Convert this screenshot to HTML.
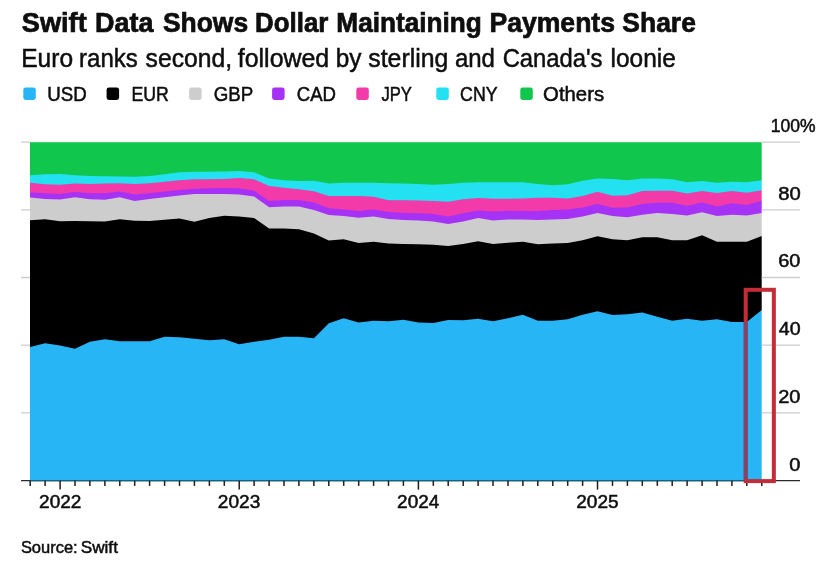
<!DOCTYPE html>
<html><head><meta charset="utf-8"><title>Swift Data Shows Dollar Maintaining Payments Share</title>
<style>
html,body{margin:0;padding:0;background:#fff;}
body{width:840px;height:578px;overflow:hidden;}
svg{display:block;font-family:"Liberation Sans",sans-serif;}
text{fill:#0e0e0e;stroke:#0e0e0e;stroke-width:0.5px;}
text.b{font-weight:bold;stroke-width:0.7px;}
</style></head><body>
<svg width="840" height="578" viewBox="0 0 840 578">
<rect width="840" height="578" fill="#ffffff"/>
<rect x="30" y="142.2" width="733.0" height="337.9" fill="#10c64c"/>
<path d="M30.0,480.1 L30.0,175.2 L30.2,175.2 L45.1,174.3 L60.1,174.0 L75.0,175.2 L89.9,176.0 L104.9,176.3 L119.8,176.5 L134.7,176.8 L149.6,176.0 L164.6,174.3 L179.5,172.3 L194.4,171.8 L209.4,171.8 L224.3,171.5 L239.2,171.0 L254.1,172.3 L269.1,178.5 L284.0,180.2 L298.9,181.0 L313.9,180.7 L328.8,183.5 L343.7,182.7 L358.7,182.7 L373.6,182.7 L388.5,183.2 L403.4,183.5 L418.4,184.0 L433.3,184.7 L448.2,184.0 L463.2,182.7 L478.1,182.3 L493.0,182.3 L508.0,182.3 L522.9,182.3 L537.8,184.0 L552.8,185.2 L567.7,184.3 L582.6,180.7 L597.5,178.5 L612.5,179.0 L627.4,180.2 L642.3,178.5 L657.3,178.5 L672.2,179.3 L687.1,182.3 L702.1,181.0 L717.0,182.7 L731.9,181.8 L746.8,182.3 L761.8,180.2 L763.0,180.2 L763.0,480.1Z" fill="#23e1f0"/>
<path d="M30.0,480.1 L30.0,182.7 L30.2,182.7 L45.1,184.3 L60.1,184.8 L75.0,183.5 L89.9,184.0 L104.9,183.5 L119.8,183.2 L134.7,184.0 L149.6,183.2 L164.6,181.8 L179.5,180.2 L194.4,179.3 L209.4,179.3 L224.3,179.0 L239.2,178.0 L254.1,179.3 L269.1,186.0 L284.0,187.7 L298.9,189.3 L313.9,191.3 L328.8,196.0 L343.7,196.0 L358.7,196.0 L373.6,196.8 L388.5,200.2 L403.4,200.2 L418.4,200.5 L433.3,201.0 L448.2,201.8 L463.2,199.3 L478.1,198.0 L493.0,198.8 L508.0,198.8 L522.9,198.5 L537.8,197.7 L552.8,197.7 L567.7,198.5 L582.6,196.0 L597.5,191.8 L612.5,195.7 L627.4,195.2 L642.3,191.0 L657.3,190.7 L672.2,190.7 L687.1,193.5 L702.1,191.0 L717.0,193.0 L731.9,191.0 L746.8,192.7 L761.8,190.2 L763.0,190.2 L763.0,480.1Z" fill="#f23aa8"/>
<path d="M30.0,480.1 L30.0,192.4 L30.2,192.4 L45.1,193.2 L60.1,194.0 L75.0,192.0 L89.9,193.2 L104.9,193.2 L119.8,191.5 L134.7,194.4 L149.6,193.2 L164.6,191.5 L179.5,189.9 L194.4,188.7 L209.4,188.2 L224.3,187.9 L239.2,188.2 L254.1,190.7 L269.1,201.0 L284.0,199.9 L298.9,199.9 L313.9,202.4 L328.8,208.2 L343.7,209.4 L358.7,211.0 L373.6,209.4 L388.5,212.0 L403.4,212.7 L418.4,213.2 L433.3,214.0 L448.2,216.5 L463.2,213.2 L478.1,210.4 L493.0,211.5 L508.0,210.7 L522.9,211.0 L537.8,211.0 L552.8,209.9 L567.7,209.4 L582.6,207.4 L597.5,204.0 L612.5,207.7 L627.4,207.4 L642.3,204.0 L657.3,202.7 L672.2,202.7 L687.1,205.7 L702.1,202.4 L717.0,206.5 L731.9,203.2 L746.8,204.9 L761.8,200.7 L763.0,200.7 L763.0,480.1Z" fill="#a632f5"/>
<path d="M30.0,480.1 L30.0,197.6 L30.2,197.6 L45.1,198.9 L60.1,199.4 L75.0,197.2 L89.9,199.2 L104.9,199.7 L119.8,197.2 L134.7,200.9 L149.6,198.9 L164.6,197.2 L179.5,195.6 L194.4,193.9 L209.4,193.9 L224.3,193.9 L239.2,194.4 L254.1,196.4 L269.1,207.2 L284.0,206.4 L298.9,206.4 L313.9,210.1 L328.8,215.1 L343.7,216.1 L358.7,217.7 L373.6,216.4 L388.5,218.9 L403.4,220.1 L418.4,220.6 L433.3,221.4 L448.2,223.9 L463.2,221.4 L478.1,218.1 L493.0,220.6 L508.0,219.4 L522.9,219.4 L537.8,220.1 L552.8,219.4 L567.7,218.9 L582.6,216.4 L597.5,213.1 L612.5,216.1 L627.4,217.2 L642.3,214.7 L657.3,213.1 L672.2,213.9 L687.1,215.6 L702.1,212.2 L717.0,216.1 L731.9,214.7 L746.8,215.6 L761.8,213.1 L763.0,213.1 L763.0,480.1Z" fill="#cdcdcd"/>
<path d="M30.0,480.1 L30.0,220.2 L30.2,220.2 L45.1,219.3 L60.1,221.3 L75.0,221.0 L89.9,221.3 L104.9,221.5 L119.8,219.3 L134.7,220.7 L149.6,221.0 L164.6,219.7 L179.5,218.5 L194.4,221.8 L209.4,218.0 L224.3,215.7 L239.2,216.5 L254.1,218.0 L269.1,228.5 L284.0,228.5 L298.9,229.3 L313.9,233.5 L328.8,240.5 L343.7,239.3 L358.7,243.0 L373.6,241.8 L388.5,243.5 L403.4,244.0 L418.4,244.3 L433.3,244.7 L448.2,246.0 L463.2,244.0 L478.1,241.3 L493.0,244.0 L508.0,242.7 L522.9,241.8 L537.8,244.3 L552.8,243.5 L567.7,243.0 L582.6,240.2 L597.5,236.3 L612.5,239.3 L627.4,240.2 L642.3,237.3 L657.3,237.3 L672.2,240.2 L687.1,240.2 L702.1,235.2 L717.0,241.8 L731.9,241.8 L746.8,241.8 L761.8,236.0 L763.0,236.0 L763.0,480.1Z" fill="#000000"/>
<path d="M30.0,480.1 L30.0,347.0 L30.2,347.0 L45.1,343.3 L60.1,345.5 L75.0,348.7 L89.9,341.7 L104.9,339.2 L119.8,341.3 L134.7,341.3 L149.6,341.3 L164.6,336.7 L179.5,337.2 L194.4,338.7 L209.4,340.3 L224.3,339.2 L239.2,344.2 L254.1,341.7 L269.1,339.7 L284.0,336.7 L298.9,336.7 L313.9,338.3 L328.8,323.3 L343.7,318.3 L358.7,322.5 L373.6,320.8 L388.5,321.3 L403.4,319.7 L418.4,322.5 L433.3,323.0 L448.2,320.0 L463.2,320.3 L478.1,318.7 L493.0,321.3 L508.0,318.3 L522.9,314.7 L537.8,320.8 L552.8,320.8 L567.7,319.2 L582.6,314.7 L597.5,311.3 L612.5,315.0 L627.4,314.2 L642.3,312.5 L657.3,316.7 L672.2,320.8 L687.1,318.7 L702.1,320.8 L717.0,319.2 L731.9,322.0 L746.8,322.0 L761.8,310.0 L763.0,310.0 L763.0,480.1Z" fill="#28b5f5"/>
<rect x="761.7" y="138" width="4" height="346" fill="#fff"/>
<path d="M21,412.8H30M761.7,412.8H800" stroke="#cbcdd0" stroke-width="1.3" fill="none"/>
<path d="M21,345.2H30M761.7,345.2H800" stroke="#cbcdd0" stroke-width="1.3" fill="none"/>
<path d="M21,277.5H30M761.7,277.5H800" stroke="#cbcdd0" stroke-width="1.3" fill="none"/>
<path d="M21,209.9H30M761.7,209.9H800" stroke="#cbcdd0" stroke-width="1.3" fill="none"/>
<path d="M21,142.2H30M761.7,142.2H800" stroke="#cbcdd0" stroke-width="1.3" fill="none"/>
<line x1="21" y1="480.7" x2="800" y2="480.7" stroke="#2a2a2a" stroke-width="1.3"/><line x1="30" y1="480.55" x2="761.7" y2="480.55" stroke="#126384" stroke-width="1.3"/>
<line x1="30.2" y1="480.8" x2="30.2" y2="485.9" stroke="#1e1e1e" stroke-width="1.5"/>
<line x1="45.1" y1="480.8" x2="45.1" y2="485.9" stroke="#1e1e1e" stroke-width="1.5"/>
<line x1="60.1" y1="480.8" x2="60.1" y2="489.6" stroke="#1e1e1e" stroke-width="1.5"/>
<line x1="75.0" y1="480.8" x2="75.0" y2="485.9" stroke="#1e1e1e" stroke-width="1.5"/>
<line x1="89.9" y1="480.8" x2="89.9" y2="485.9" stroke="#1e1e1e" stroke-width="1.5"/>
<line x1="104.9" y1="480.8" x2="104.9" y2="485.9" stroke="#1e1e1e" stroke-width="1.5"/>
<line x1="119.8" y1="480.8" x2="119.8" y2="485.9" stroke="#1e1e1e" stroke-width="1.5"/>
<line x1="134.7" y1="480.8" x2="134.7" y2="485.9" stroke="#1e1e1e" stroke-width="1.5"/>
<line x1="149.6" y1="480.8" x2="149.6" y2="485.9" stroke="#1e1e1e" stroke-width="1.5"/>
<line x1="164.6" y1="480.8" x2="164.6" y2="485.9" stroke="#1e1e1e" stroke-width="1.5"/>
<line x1="179.5" y1="480.8" x2="179.5" y2="485.9" stroke="#1e1e1e" stroke-width="1.5"/>
<line x1="194.4" y1="480.8" x2="194.4" y2="485.9" stroke="#1e1e1e" stroke-width="1.5"/>
<line x1="209.4" y1="480.8" x2="209.4" y2="485.9" stroke="#1e1e1e" stroke-width="1.5"/>
<line x1="224.3" y1="480.8" x2="224.3" y2="485.9" stroke="#1e1e1e" stroke-width="1.5"/>
<line x1="239.2" y1="480.8" x2="239.2" y2="489.6" stroke="#1e1e1e" stroke-width="1.5"/>
<line x1="254.1" y1="480.8" x2="254.1" y2="485.9" stroke="#1e1e1e" stroke-width="1.5"/>
<line x1="269.1" y1="480.8" x2="269.1" y2="485.9" stroke="#1e1e1e" stroke-width="1.5"/>
<line x1="284.0" y1="480.8" x2="284.0" y2="485.9" stroke="#1e1e1e" stroke-width="1.5"/>
<line x1="298.9" y1="480.8" x2="298.9" y2="485.9" stroke="#1e1e1e" stroke-width="1.5"/>
<line x1="313.9" y1="480.8" x2="313.9" y2="485.9" stroke="#1e1e1e" stroke-width="1.5"/>
<line x1="328.8" y1="480.8" x2="328.8" y2="485.9" stroke="#1e1e1e" stroke-width="1.5"/>
<line x1="343.7" y1="480.8" x2="343.7" y2="485.9" stroke="#1e1e1e" stroke-width="1.5"/>
<line x1="358.7" y1="480.8" x2="358.7" y2="485.9" stroke="#1e1e1e" stroke-width="1.5"/>
<line x1="373.6" y1="480.8" x2="373.6" y2="485.9" stroke="#1e1e1e" stroke-width="1.5"/>
<line x1="388.5" y1="480.8" x2="388.5" y2="485.9" stroke="#1e1e1e" stroke-width="1.5"/>
<line x1="403.4" y1="480.8" x2="403.4" y2="485.9" stroke="#1e1e1e" stroke-width="1.5"/>
<line x1="418.4" y1="480.8" x2="418.4" y2="489.6" stroke="#1e1e1e" stroke-width="1.5"/>
<line x1="433.3" y1="480.8" x2="433.3" y2="485.9" stroke="#1e1e1e" stroke-width="1.5"/>
<line x1="448.2" y1="480.8" x2="448.2" y2="485.9" stroke="#1e1e1e" stroke-width="1.5"/>
<line x1="463.2" y1="480.8" x2="463.2" y2="485.9" stroke="#1e1e1e" stroke-width="1.5"/>
<line x1="478.1" y1="480.8" x2="478.1" y2="485.9" stroke="#1e1e1e" stroke-width="1.5"/>
<line x1="493.0" y1="480.8" x2="493.0" y2="485.9" stroke="#1e1e1e" stroke-width="1.5"/>
<line x1="508.0" y1="480.8" x2="508.0" y2="485.9" stroke="#1e1e1e" stroke-width="1.5"/>
<line x1="522.9" y1="480.8" x2="522.9" y2="485.9" stroke="#1e1e1e" stroke-width="1.5"/>
<line x1="537.8" y1="480.8" x2="537.8" y2="485.9" stroke="#1e1e1e" stroke-width="1.5"/>
<line x1="552.8" y1="480.8" x2="552.8" y2="485.9" stroke="#1e1e1e" stroke-width="1.5"/>
<line x1="567.7" y1="480.8" x2="567.7" y2="485.9" stroke="#1e1e1e" stroke-width="1.5"/>
<line x1="582.6" y1="480.8" x2="582.6" y2="485.9" stroke="#1e1e1e" stroke-width="1.5"/>
<line x1="597.5" y1="480.8" x2="597.5" y2="489.6" stroke="#1e1e1e" stroke-width="1.5"/>
<line x1="612.5" y1="480.8" x2="612.5" y2="485.9" stroke="#1e1e1e" stroke-width="1.5"/>
<line x1="627.4" y1="480.8" x2="627.4" y2="485.9" stroke="#1e1e1e" stroke-width="1.5"/>
<line x1="642.3" y1="480.8" x2="642.3" y2="485.9" stroke="#1e1e1e" stroke-width="1.5"/>
<line x1="657.3" y1="480.8" x2="657.3" y2="485.9" stroke="#1e1e1e" stroke-width="1.5"/>
<line x1="672.2" y1="480.8" x2="672.2" y2="485.9" stroke="#1e1e1e" stroke-width="1.5"/>
<line x1="687.1" y1="480.8" x2="687.1" y2="485.9" stroke="#1e1e1e" stroke-width="1.5"/>
<line x1="702.1" y1="480.8" x2="702.1" y2="485.9" stroke="#1e1e1e" stroke-width="1.5"/>
<line x1="717.0" y1="480.8" x2="717.0" y2="485.9" stroke="#1e1e1e" stroke-width="1.5"/>
<line x1="731.9" y1="480.8" x2="731.9" y2="485.9" stroke="#1e1e1e" stroke-width="1.5"/>
<line x1="746.8" y1="480.8" x2="746.8" y2="485.9" stroke="#1e1e1e" stroke-width="1.5"/>
<line x1="761.8" y1="480.8" x2="761.8" y2="485.9" stroke="#1e1e1e" stroke-width="1.5"/>
<rect x="745.7" y="289.8" width="28.15" height="191.3" fill="none" stroke="#c42d38" stroke-width="4"/><line x1="745.7" y1="322" x2="745.7" y2="479" stroke="#80466a" stroke-width="4"/>
<text x="21.77" y="31.8" font-size="27" class="b" textLength="64.94" lengthAdjust="spacingAndGlyphs">Swift</text>
<text x="94.98" y="31.8" font-size="27" class="b" textLength="58.44" lengthAdjust="spacingAndGlyphs">Data</text>
<text x="162.89" y="31.8" font-size="27" class="b" textLength="85.23" lengthAdjust="spacingAndGlyphs">Shows</text>
<text x="254.98" y="31.8" font-size="27" class="b" textLength="73.42" lengthAdjust="spacingAndGlyphs">Dollar</text>
<text x="336.34" y="31.8" font-size="27" class="b" textLength="145.43" lengthAdjust="spacingAndGlyphs">Maintaining</text>
<text x="489.44" y="31.8" font-size="27" class="b" textLength="125.57" lengthAdjust="spacingAndGlyphs">Payments</text>
<text x="622.34" y="31.8" font-size="27" class="b" textLength="73.53" lengthAdjust="spacingAndGlyphs">Share</text>
<text x="21.22" y="66.5" font-size="25" textLength="51.80" lengthAdjust="spacingAndGlyphs">Euro</text>
<text x="79.12" y="66.5" font-size="25" textLength="58.72" lengthAdjust="spacingAndGlyphs">ranks</text>
<text x="145.55" y="66.5" font-size="25" textLength="86.57" lengthAdjust="spacingAndGlyphs">second,</text>
<text x="237.77" y="66.5" font-size="25" textLength="91.48" lengthAdjust="spacingAndGlyphs">followed</text>
<text x="335.65" y="66.5" font-size="25" textLength="25.70" lengthAdjust="spacingAndGlyphs">by</text>
<text x="368.32" y="66.5" font-size="25" textLength="79.97" lengthAdjust="spacingAndGlyphs">sterling</text>
<text x="454.97" y="66.5" font-size="25" textLength="39.97" lengthAdjust="spacingAndGlyphs">and</text>
<text x="502.63" y="66.5" font-size="25" textLength="99.91" lengthAdjust="spacingAndGlyphs">Canada&#39;s</text>
<text x="610.56" y="66.5" font-size="25" textLength="65.24" lengthAdjust="spacingAndGlyphs">loonie</text>
<text x="47.30" y="100.5" font-size="19.5" textLength="39.46" lengthAdjust="spacingAndGlyphs">USD</text>
<text x="131.41" y="100.5" font-size="19.5" textLength="37.37" lengthAdjust="spacingAndGlyphs">EUR</text>
<text x="213.69" y="100.5" font-size="19.5" textLength="39.55" lengthAdjust="spacingAndGlyphs">GBP</text>
<text x="296.73" y="100.5" font-size="19.5" textLength="39.25" lengthAdjust="spacingAndGlyphs">CAD</text>
<text x="381.48" y="100.5" font-size="19.5" textLength="30.41" lengthAdjust="spacingAndGlyphs">JPY</text>
<text x="460.10" y="100.5" font-size="19.5" textLength="37.48" lengthAdjust="spacingAndGlyphs">CNY</text>
<text x="543.10" y="100.5" font-size="19.5" textLength="60.98" lengthAdjust="spacingAndGlyphs">Others</text>
<text x="39.09" y="507.6" font-size="17.6" textLength="42.25" lengthAdjust="spacingAndGlyphs">2022</text>
<text x="217.85" y="507.6" font-size="17.6" textLength="42.44" lengthAdjust="spacingAndGlyphs">2023</text>
<text x="397.13" y="507.6" font-size="17.6" textLength="42.04" lengthAdjust="spacingAndGlyphs">2024</text>
<text x="576.29" y="507.6" font-size="17.6" textLength="42.35" lengthAdjust="spacingAndGlyphs">2025</text>
<text x="789.30" y="470.9" font-size="18" textLength="11.16" lengthAdjust="spacingAndGlyphs">0</text>
<text x="778.24" y="402.7" font-size="18" textLength="22.29" lengthAdjust="spacingAndGlyphs">20</text>
<text x="778.74" y="335.1" font-size="18" textLength="21.80" lengthAdjust="spacingAndGlyphs">40</text>
<text x="778.31" y="267.4" font-size="18" textLength="22.14" lengthAdjust="spacingAndGlyphs">60</text>
<text x="778.31" y="199.8" font-size="18" textLength="22.51" lengthAdjust="spacingAndGlyphs">80</text>
<text x="770.83" y="132.1" font-size="18" textLength="44.80" lengthAdjust="spacingAndGlyphs">100%</text>
<text x="20.89" y="553.4" font-size="17" textLength="56.74" lengthAdjust="spacingAndGlyphs">Source:</text>
<text x="80.67" y="553.4" font-size="17" textLength="37.27" lengthAdjust="spacingAndGlyphs">Swift</text>
<rect x="23.3" y="87.4" width="12.5" height="12.5" rx="2.4" fill="#28b5f5"/>
<rect x="106.6" y="87.4" width="12.5" height="12.5" rx="2.4" fill="#000000"/>
<rect x="189.1" y="87.4" width="12.5" height="12.5" rx="2.4" fill="#cdcdcd"/>
<rect x="272.1" y="87.4" width="12.5" height="12.5" rx="2.4" fill="#a632f5"/>
<rect x="356.3" y="87.4" width="12.5" height="12.5" rx="2.4" fill="#f23aa8"/>
<rect x="436.3" y="87.4" width="12.5" height="12.5" rx="2.4" fill="#23e1f0"/>
<rect x="520.3" y="87.4" width="12.5" height="12.5" rx="2.4" fill="#10c64c"/>
</svg>
</body></html>
